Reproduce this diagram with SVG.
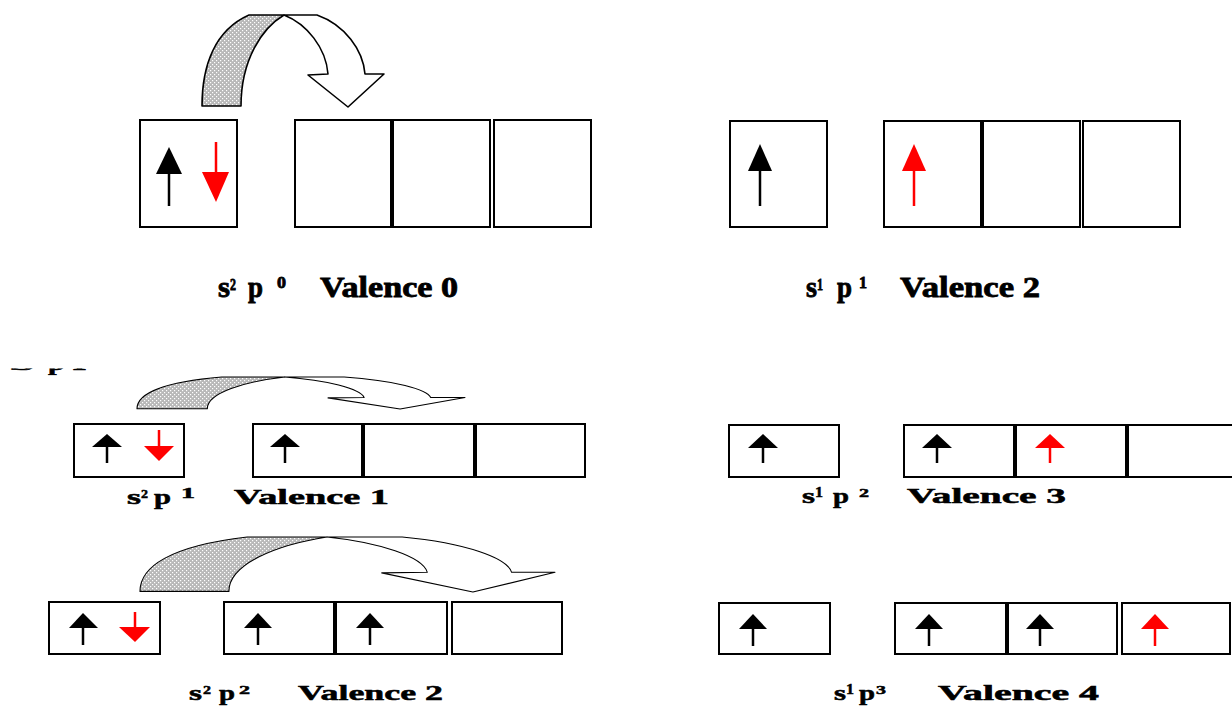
<svg xmlns="http://www.w3.org/2000/svg" width="1232" height="707" viewBox="0 0 1232 707">
  <style>
    .box { fill: #fff; stroke: #000; stroke-width: 2; }
    .div { stroke: #000; stroke-width: 4; }
    .shaft { stroke: #000; stroke-width: 2.5; fill: none; }
    .head { fill: #000; }
    .red .shaft { stroke: #f00; }
    .red .head { fill: #f00; }
    .lbl { font-family: "Liberation Serif", "Times New Roman", serif; font-weight: bold; fill: #000; }
    .big { stroke: #000; stroke-width: 0.8; }
    .sm { stroke: #000; stroke-width: 0.5; }
    .curl-shade { fill: url(#stipple); stroke: #000; stroke-width: 1.6; stroke-linejoin: round; }
    .curl-open { fill: #fff; stroke: #000; stroke-width: 1.6; stroke-linejoin: round; }
    .thin { stroke-width: 1.1; }
  </style>
  <defs>
    <pattern id="stipple" width="4" height="4" patternUnits="userSpaceOnUse">
      <rect width="4" height="4" fill="#b8b8b8"/>
      <rect x="0" y="0" width="1.2" height="1.2" fill="#fff"/>
      <rect x="2" y="2" width="1.2" height="1.2" fill="#fff"/>
    </pattern>
    <clipPath id="cut-top">
      <rect x="0" y="368.5" width="120" height="7"/>
    </clipPath>
  </defs>

  <rect width="1232" height="707" fill="#fff"/>

  <!-- promotion arrows: s electron lifted into the empty p orbital -->
  <g id="connectors">
    <g id="promote-top">
      <path class="curl-shade" d="M202,106 C202,65 215,30 249,15 L284,15 C262,28 241,60 241,106 Z"/>
      <path class="curl-open" d="M284,15 L317,15 C345,25 363,50 365,74 L384,74 L348,107 L308,75 L328,74 C326,48 307,24 284,15 Z"/>
    </g>
    <g id="promote-mid">
      <path class="curl-shade thin" d="M137,408.7 C137,394.4 160.4,382.2 221.7,377 L284.8,377 C245.1,381.5 207.3,392.7 207.3,408.7 Z"/>
      <path class="curl-open thin" d="M284.8,377 L344.2,377 C394.7,380.5 427.1,389.2 430.7,397.5 L465,397.5 L400.1,409 L328,397.9 L364.1,397.5 C360.4,388.5 326.2,380.1 284.8,377 Z"/>
    </g>
    <g id="promote-low">
      <path class="curl-shade thin" d="M140,591.4 C140,566.9 169.6,546 247.2,537 L327,537 C276.8,544.8 228.9,563.9 228.9,591.4 Z"/>
      <path class="curl-open thin" d="M327,537 L402.2,537 C466,543 507.1,557.9 511.6,572.3 L555,572.3 L472.9,592 L381.7,572.9 L427.3,572.3 C422.7,556.7 379.4,542.4 327,537 Z"/>
    </g>
  </g>

  <!-- s2p0, valence 0 -->
  <g id="cfg-s2p0">
    <rect class="box" x="140" y="120" width="97" height="107"/>
    <rect class="box" x="295" y="120" width="97" height="107"/>
    <rect class="box" x="392" y="120" width="98" height="107"/>
    <rect class="box" x="494" y="120" width="97" height="107"/>
    <line class="div" x1="392" y1="120" x2="392" y2="227"/>
    <g><polygon class="head" points="169,147 156,174 182,174"/><line class="shaft" x1="169" y1="174" x2="169" y2="206"/></g>
    <g class="red"><line class="shaft" x1="216" y1="142" x2="216" y2="172"/><polygon class="head" points="202,172 229,172 216,202"/></g>
    <text class="lbl big" x="218" y="297" font-size="29" textLength="12" lengthAdjust="spacingAndGlyphs">s</text>
    <text class="lbl big" x="230" y="290" font-size="17" textLength="6" lengthAdjust="spacingAndGlyphs">2</text>
    <text class="lbl big" x="248" y="297" font-size="29" textLength="15" lengthAdjust="spacingAndGlyphs">p</text>
    <text class="lbl big" x="277" y="288" font-size="17" textLength="9" lengthAdjust="spacingAndGlyphs">0</text>
    <text class="lbl big" x="320" y="297" font-size="29" textLength="138" lengthAdjust="spacingAndGlyphs">Valence 0</text>
  </g>

  <!-- s1p1, valence 2 -->
  <g id="cfg-s1p1">
    <rect class="box" x="730" y="121" width="97" height="106"/>
    <rect class="box" x="884" y="121" width="98" height="106"/>
    <rect class="box" x="982" y="121" width="98" height="106"/>
    <rect class="box" x="1083" y="121" width="97" height="106"/>
    <line class="div" x1="982" y1="121" x2="982" y2="227"/>
    <g><polygon class="head" points="760,144 748,171 772,171"/><line class="shaft" x1="760" y1="171" x2="760" y2="206"/></g>
    <g class="red"><polygon class="head" points="914,144 902,171 926,171"/><line class="shaft" x1="914" y1="171" x2="914" y2="206"/></g>
    <text class="lbl big" x="806" y="297" font-size="29" textLength="11" lengthAdjust="spacingAndGlyphs">s</text>
    <text class="lbl big" x="817" y="290" font-size="17" textLength="6" lengthAdjust="spacingAndGlyphs">1</text>
    <text class="lbl big" x="837" y="297" font-size="29" textLength="15" lengthAdjust="spacingAndGlyphs">p</text>
    <text class="lbl big" x="859" y="288" font-size="17" textLength="8" lengthAdjust="spacingAndGlyphs">1</text>
    <text class="lbl big" x="900" y="297" font-size="29" textLength="140" lengthAdjust="spacingAndGlyphs">Valence 2</text>
  </g>

  <!-- partly hidden caption at the left margin -->
  <g id="caption-cut" clip-path="url(#cut-top)">
    <text class="lbl sm" x="10" y="370" font-size="20" textLength="24" lengthAdjust="spacingAndGlyphs">s</text>
    <text class="lbl sm" x="48" y="370" font-size="20" textLength="17" lengthAdjust="spacingAndGlyphs">p</text>
    <text class="lbl sm" x="71" y="370" font-size="20" textLength="16" lengthAdjust="spacingAndGlyphs">1</text>
  </g>

  <!-- s2p1, valence 1 -->
  <g id="cfg-s2p1">
    <rect class="box" x="74" y="424" width="110" height="53"/>
    <rect class="box" x="253" y="424" width="110" height="53"/>
    <rect class="box" x="363" y="424" width="112" height="53"/>
    <rect class="box" x="475" y="424" width="110" height="53"/>
    <line class="div" x1="363" y1="424" x2="363" y2="477"/>
    <line class="div" x1="475" y1="424" x2="475" y2="477"/>
    <g><polygon class="head" points="107,434 92,447 122,447"/><line class="shaft" x1="107" y1="447" x2="107" y2="463"/></g>
    <g class="red"><line class="shaft" x1="159" y1="430" x2="159" y2="446"/><polygon class="head" points="144,446 174,446 159,461"/></g>
    <g><polygon class="head" points="285,434 270,447 300,447"/><line class="shaft" x1="285" y1="447" x2="285" y2="463"/></g>
    <text class="lbl sm" x="127" y="504" font-size="20" textLength="14" lengthAdjust="spacingAndGlyphs">s</text>
    <text class="lbl sm" x="141" y="498" font-size="13" textLength="7" lengthAdjust="spacingAndGlyphs">2</text>
    <text class="lbl sm" x="154" y="504" font-size="20" textLength="17" lengthAdjust="spacingAndGlyphs">p</text>
    <text class="lbl sm" x="181" y="498" font-size="14" textLength="14" lengthAdjust="spacingAndGlyphs">1</text>
    <text class="lbl sm" x="234" y="504" font-size="20" textLength="155" lengthAdjust="spacingAndGlyphs">Valence 1</text>
  </g>

  <!-- s1p2, valence 3 -->
  <g id="cfg-s1p2">
    <rect class="box" x="729" y="425" width="110" height="52"/>
    <rect class="box" x="904" y="425" width="111" height="52"/>
    <rect class="box" x="1015" y="425" width="112" height="52"/>
    <rect class="box" x="1127" y="425" width="113" height="52"/>
    <line class="div" x1="1015" y1="425" x2="1015" y2="477"/>
    <line class="div" x1="1127" y1="425" x2="1127" y2="477"/>
    <g><polygon class="head" points="763,434 748,448 778,448"/><line class="shaft" x1="763" y1="448" x2="763" y2="463"/></g>
    <g><polygon class="head" points="937,434 922,448 952,448"/><line class="shaft" x1="937" y1="448" x2="937" y2="463"/></g>
    <g class="red"><polygon class="head" points="1050,434 1035,448 1065,448"/><line class="shaft" x1="1050" y1="448" x2="1050" y2="463"/></g>
    <text class="lbl sm" x="802" y="503" font-size="20" textLength="13" lengthAdjust="spacingAndGlyphs">s</text>
    <text class="lbl sm" x="815" y="497" font-size="14" textLength="8" lengthAdjust="spacingAndGlyphs">1</text>
    <text class="lbl sm" x="833" y="503" font-size="20" textLength="16" lengthAdjust="spacingAndGlyphs">p</text>
    <text class="lbl sm" x="859" y="497" font-size="13" textLength="10" lengthAdjust="spacingAndGlyphs">2</text>
    <text class="lbl sm" x="907" y="503" font-size="20" textLength="159" lengthAdjust="spacingAndGlyphs">Valence 3</text>
  </g>

  <!-- s2p2, valence 2 -->
  <g id="cfg-s2p2">
    <rect class="box" x="49" y="602" width="111" height="52"/>
    <rect class="box" x="224" y="602" width="111" height="52"/>
    <rect class="box" x="335" y="602" width="112" height="52"/>
    <rect class="box" x="452" y="602" width="110" height="52"/>
    <line class="div" x1="335" y1="602" x2="335" y2="654"/>
    <g><polygon class="head" points="83,613 69,628 98,628"/><line class="shaft" x1="83" y1="628" x2="83" y2="645"/></g>
    <g class="red"><line class="shaft" x1="135" y1="612" x2="135" y2="627"/><polygon class="head" points="119,627 150,627 135,642"/></g>
    <g><polygon class="head" points="258,613 244,628 272,628"/><line class="shaft" x1="258" y1="628" x2="258" y2="645"/></g>
    <g><polygon class="head" points="370,613 356,628 384,628"/><line class="shaft" x1="370" y1="628" x2="370" y2="645"/></g>
    <text class="lbl sm" x="189" y="700" font-size="20" textLength="13" lengthAdjust="spacingAndGlyphs">s</text>
    <text class="lbl sm" x="203" y="694" font-size="13" textLength="8" lengthAdjust="spacingAndGlyphs">2</text>
    <text class="lbl sm" x="219" y="700" font-size="20" textLength="16" lengthAdjust="spacingAndGlyphs">p</text>
    <text class="lbl sm" x="239" y="694" font-size="13" textLength="11" lengthAdjust="spacingAndGlyphs">2</text>
    <text class="lbl sm" x="298" y="700" font-size="20" textLength="145" lengthAdjust="spacingAndGlyphs">Valence 2</text>
  </g>

  <!-- s1p3, valence 4 -->
  <g id="cfg-s1p3">
    <rect class="box" x="719" y="603" width="111" height="51"/>
    <rect class="box" x="895" y="603" width="112" height="51"/>
    <rect class="box" x="1007" y="603" width="110" height="51"/>
    <rect class="box" x="1122" y="603" width="108" height="51"/>
    <line class="div" x1="1007" y1="603" x2="1007" y2="654"/>
    <g><polygon class="head" points="753,614 739,629 767,629"/><line class="shaft" x1="753" y1="629" x2="753" y2="646"/></g>
    <g><polygon class="head" points="929,614 915,629 943,629"/><line class="shaft" x1="929" y1="629" x2="929" y2="646"/></g>
    <g><polygon class="head" points="1040,614 1026,629 1054,629"/><line class="shaft" x1="1040" y1="629" x2="1040" y2="646"/></g>
    <g class="red"><polygon class="head" points="1155,614 1141,629 1169,629"/><line class="shaft" x1="1155" y1="629" x2="1155" y2="646"/></g>
    <text class="lbl sm" x="834" y="700" font-size="20" textLength="12" lengthAdjust="spacingAndGlyphs">s</text>
    <text class="lbl sm" x="846" y="694" font-size="14" textLength="8" lengthAdjust="spacingAndGlyphs">1</text>
    <text class="lbl sm" x="859" y="700" font-size="20" textLength="16" lengthAdjust="spacingAndGlyphs">p</text>
    <text class="lbl sm" x="876" y="694" font-size="13" textLength="10" lengthAdjust="spacingAndGlyphs">3</text>
    <text class="lbl sm" x="938" y="700" font-size="20" textLength="161" lengthAdjust="spacingAndGlyphs">Valence 4</text>
  </g>
</svg>
